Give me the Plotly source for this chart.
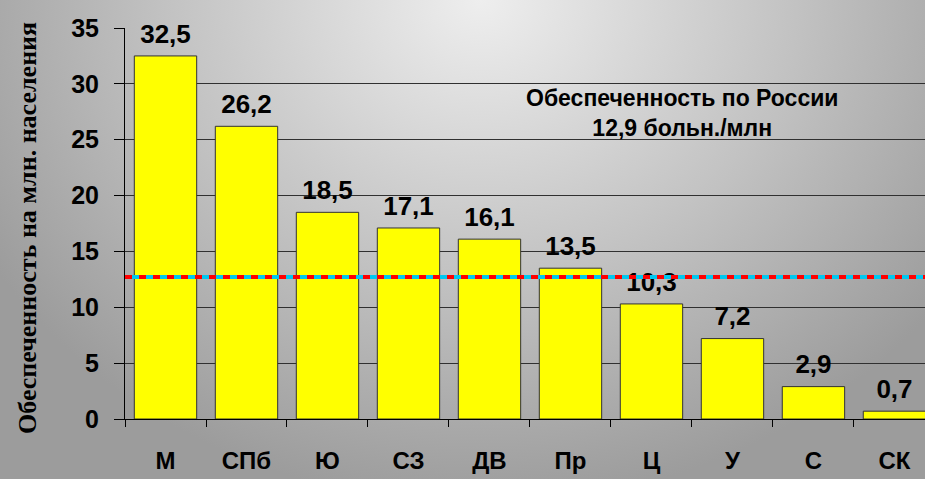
"""
Bar chart: обеспеченность на млн. населения по округам.
"""
import base64

import plotly.graph_objects as go

regions = ["М", "СПб", "Ю", "СЗ", "ДВ", "Пр", "Ц", "У", "С", "СК"]
values = [32.5, 26.2, 18.5, 17.1, 16.1, 13.5, 10.3, 7.2, 2.9, 0.7]
russia_level = 12.7  # where the dashed line sits on the picture
y_ticks = [0, 5, 10, 15, 20, 25, 30, 35]

labels = [f"{v:.1f}".replace(".", ",") for v in values]

# gray background, lightest at the top middle
bg_svg = (
    '<svg xmlns="http://www.w3.org/2000/svg" width="925" height="479">'
    '<defs><radialGradient id="g" cx="52%" cy="0%" r="62%" '
    'gradientTransform="translate(0.52 0) scale(1 1.7) translate(-0.52 0)">'
    '<stop offset="0" stop-color="#eeeeee"/>'
    '<stop offset="0.55" stop-color="#c2c2c2"/>'
    '<stop offset="1" stop-color="#9c9c9c"/>'
    '</radialGradient></defs>'
    '<rect width="925" height="479" fill="url(#g)"/></svg>'
)
bg_src = "data:image/svg+xml;base64," + base64.b64encode(bg_svg.encode()).decode()

arial_bold = dict(family="Arial, Liberation Sans", color="#000000", weight="bold")

fig = go.Figure()

fig.add_trace(go.Bar(
    x=regions,
    y=values,
    width=0.77,
    marker=dict(color="#ffff00", line=dict(color="#333333", width=1)),
    hoverinfo="skip",
))

# value labels, lifted off the bar tops by an invisible marker
fig.add_trace(go.Scatter(
    x=regions,
    y=values,
    mode="markers+text",
    marker=dict(size=9, color="rgba(0,0,0,0)"),
    text=labels,
    textposition="top center",
    textfont=dict(size=26, **arial_bold),
    cliponaxis=False,
))

# dashed two-colour line for the Russia average
fig.add_shape(type="line", xref="paper", x0=0, x1=1, yref="y",
              y0=russia_level, y1=russia_level,
              line=dict(color="#00c8f0", width=4), layer="above")
fig.add_shape(type="line", xref="paper", x0=0, x1=1, yref="y",
              y0=russia_level, y1=russia_level,
              line=dict(color="#ff0000", width=4, dash="7px,7px"), layer="above")

fig.update_layout(
    width=925,
    height=479,
    margin=dict(l=125, r=0, t=28, b=60),
    paper_bgcolor="rgba(0,0,0,0)",
    plot_bgcolor="rgba(0,0,0,0)",
    showlegend=False,
    images=[dict(source=bg_src, xref="paper", yref="paper", x=-125 / 800, y=1 + 28 / 391,
                 sizex=925 / 800, sizey=479 / 391, xanchor="left", yanchor="top",
                 sizing="stretch", layer="below")],
    annotations=[
        dict(text="Обеспеченность по России<br>12,9 больн./млн",
             xref="paper", yref="paper", x=(682 - 125) / 800, y=(419 - 113) / 391,
             xanchor="center", yanchor="middle",
             showarrow=False, align="center",
             font=dict(size=23, **arial_bold)),
        dict(text="<b>Обеспеченность на млн. населения</b>",
             xref="paper", yref="paper", x=-(125 - 28) / 800, y=(419 - 228) / 391,
             xanchor="center", yanchor="middle",
             textangle=-90, showarrow=False,
             font=dict(family="Times New Roman, Liberation Serif", size=26, color="#000000")),
    ],
    xaxis=dict(
        range=[-0.5, 9.377],
        showgrid=False,
        showline=True, linecolor="#000000", linewidth=1,
        ticks="outside", tickson="boundaries", ticklen=7, tickcolor="#000000",
        tickfont=dict(size=24, **arial_bold),
        ticklabelstandoff=20,
    ),
    yaxis=dict(
        range=[0, 35],
        tickvals=y_ticks,
        showgrid=True, gridcolor="#303030", gridwidth=1,
        showline=True, linecolor="#000000", linewidth=1,
        ticks="outside", ticklen=10, tickcolor="#000000",
        tickfont=dict(size=25, **arial_bold),
        ticklabelstandoff=10,
        zeroline=False,
    ),
)

fig.write_html(
    "out.html",
    config={"displayModeBar": False},
    post_script="document.body.style.margin='0';document.body.style.overflow='hidden';",
)
